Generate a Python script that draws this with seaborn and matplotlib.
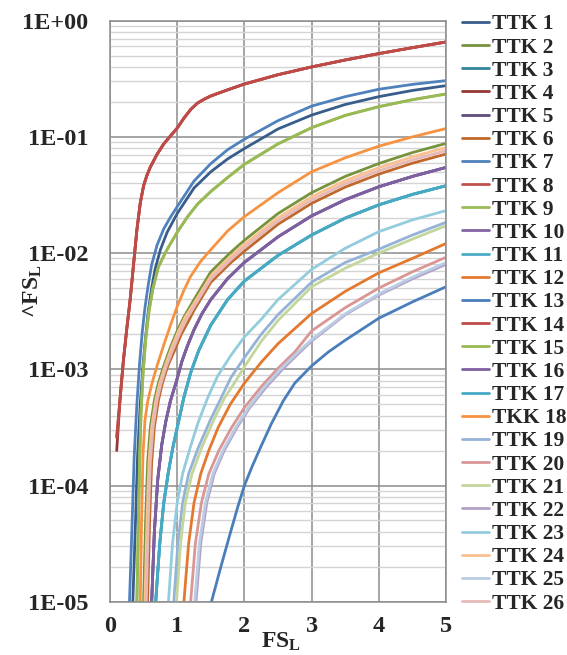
import numpy as np
import pandas as pd
import matplotlib
matplotlib.use("Agg")
import matplotlib.pyplot as plt
import matplotlib.ticker as mticker
import seaborn as sns

# ---- data (x = FS_L, y = ^FS_L) ----
red_x = [0.10, 0.15, 0.20, 0.25, 0.30, 0.35, 0.40, 0.45, 0.50, 0.55, 0.60, 0.70, 0.80, 0.90, 1.00, 1.10,
         1.20, 1.30, 1.40, 1.50, 1.75, 2.00, 2.50, 3.00, 3.50, 4.00, 4.50, 5.00]
ttk4_y = [2.0e-4, 5.6e-4, 1.2e-3, 2.24e-3, 3.98e-3, 7.94e-3, 0.0158, 0.0269, 0.038, 0.0468, 0.055, 0.0708,
          0.0871, 0.102, 0.119, 0.145, 0.172, 0.195, 0.211, 0.225, 0.254, 0.285, 0.343, 0.400, 0.459, 0.521, 0.586, 0.656]
ttk8_y = [2.6e-4, 5.6e-4, 1.2e-3, 2.24e-3, 3.98e-3, 7.94e-3, 0.0158, 0.0269, 0.038, 0.0468, 0.055, 0.0708,
          0.0871, 0.102, 0.119, 0.145, 0.172, 0.195, 0.211, 0.225, 0.254, 0.285, 0.343, 0.400, 0.459, 0.521, 0.586, 0.656]
ttk14_y = [2.6e-4, 5.6e-4, 1.2e-3, 2.24e-3, 3.98e-3, 7.94e-3, 0.0158, 0.0269, 0.038, 0.0468, 0.055, 0.0708,
           0.0871, 0.102, 0.119, 0.145, 0.172, 0.195, 0.211, 0.225, 0.254, 0.285, 0.343, 0.400, 0.459, 0.521, 0.586, 0.656]

ttk7_x = [0.29, 0.33, 0.36, 0.40, 0.44, 0.48, 0.52, 0.57, 0.62, 0.70, 0.80, 0.90, 1.00, 1.25, 1.50, 1.75,
          2.00, 2.50, 3.00, 3.50, 4.00, 4.50, 5.00]
ttk7_y = [1e-5, 5.0e-5, 1.78e-4, 5.0e-4, 1.12e-3, 2.09e-3, 3.39e-3, 5.37e-3, 7.94e-3, 0.0117, 0.0162, 0.0204,
          0.0251, 0.0417, 0.0589, 0.0776, 0.0955, 0.138, 0.184, 0.222, 0.257, 0.283, 0.305]

ttk1_x = [0.34, 0.38, 0.41, 0.45, 0.49, 0.53, 0.57, 0.62, 0.67, 0.75, 0.85, 1.00, 1.25, 1.50, 1.75, 2.00,
          2.50, 3.00, 3.50, 4.00, 4.50, 5.00]
ttk1_y = [1e-5, 5.0e-5, 1.78e-4, 5.0e-4, 1.07e-3, 1.91e-3, 3.16e-3, 5.0e-3, 7.24e-3, 0.0107, 0.0151, 0.0219,
          0.0363, 0.0501, 0.0646, 0.0794, 0.117, 0.154, 0.190, 0.222, 0.251, 0.276]

green_x = [0.40, 0.42, 0.44, 0.46, 0.49, 0.53, 0.58, 0.64, 0.72, 0.84, 1.00, 1.15, 1.30, 1.50, 1.75, 2.00,
           2.50, 3.00, 3.50, 4.00, 4.50, 5.00]
ttk9_y = [1e-5, 3.98e-5, 1.58e-4, 3.98e-4, 8.9e-4, 1.78e-3, 3.16e-3, 5.0e-3, 7.6e-3, 0.0105, 0.0151, 0.0204,
          0.0263, 0.0339, 0.0447, 0.0581, 0.0871, 0.120, 0.153, 0.182, 0.209, 0.234]
ttk15_y = [1e-5, 3.98e-5, 1.58e-4, 3.98e-4, 8.9e-4, 1.78e-3, 3.16e-3, 5.0e-3, 7.6e-3, 0.0105, 0.0151, 0.0204,
           0.0263, 0.0339, 0.0447, 0.0581, 0.0871, 0.120, 0.153, 0.182, 0.209, 0.234]

ttk18_x = [0.45, 0.47, 0.49, 0.52, 0.56, 0.62, 0.70, 0.80, 0.90, 1.00, 1.10, 1.20, 1.35, 1.50, 1.75, 2.00,
           2.50, 3.00, 3.50, 4.00, 4.50, 5.00]
ttk18_y = [1e-5, 5.0e-5, 1.78e-4, 3.63e-4, 5.25e-4, 7.4e-4, 1.07e-3, 1.62e-3, 2.4e-3, 3.47e-3, 4.79e-3, 6.31e-3,
           8.5e-3, 0.0107, 0.0155, 0.0206, 0.0331, 0.0501, 0.0661, 0.0832, 0.100, 0.118]

ttk2_x = [0.50, 0.53, 0.56, 0.60, 0.66, 0.72, 0.80, 0.90, 1.00, 1.10, 1.25, 1.50, 1.80, 2.00, 2.50, 3.00,
          3.50, 4.00, 4.50, 5.00]
ttk2_y = [1e-5, 5.0e-5, 1.58e-4, 3.16e-4, 5.4e-4, 7.6e-4, 1.07e-3, 1.55e-3, 2.14e-3, 2.82e-3, 3.98e-3, 6.9e-3,
          0.0102, 0.0129, 0.0219, 0.0331, 0.0457, 0.0590, 0.0733, 0.0879]

ttk24_x = [0.52, 0.55, 0.58, 0.62, 0.68, 0.74, 0.82, 0.92, 1.02, 1.12, 1.25, 1.50, 1.80, 2.00, 2.50, 3.00,
           3.50, 4.00, 4.50, 5.00]
ttk24_y = [1e-5, 5.0e-5, 1.58e-4, 3.16e-4, 5.4e-4, 7.6e-4, 1.07e-3, 1.55e-3, 2.14e-3, 2.82e-3, 3.7e-3, 6.35e-3,
           9.4e-3, 0.0119, 0.0201, 0.0305, 0.0420, 0.0543, 0.0674, 0.0810]

ttk26_x = [0.54, 0.57, 0.60, 0.64, 0.70, 0.76, 0.84, 0.94, 1.04, 1.14, 1.25, 1.50, 1.80, 2.00, 2.50, 3.00,
           3.50, 4.00, 4.50, 5.00]
ttk26_y = [1e-5, 5.0e-5, 1.58e-4, 3.16e-4, 5.4e-4, 7.6e-4, 1.07e-3, 1.5e-3, 2.05e-3, 2.7e-3, 3.45e-3, 5.97e-3,
           8.8e-3, 0.0112, 0.0189, 0.0286, 0.0395, 0.0510, 0.0634, 0.0760]

ttk6_x = [0.56, 0.59, 0.62, 0.66, 0.72, 0.78, 0.86, 0.96, 1.06, 1.16, 1.25, 1.50, 1.80, 2.00, 2.50, 3.00,
          3.50, 4.00, 4.50, 5.00]
ttk6_y = [1e-5, 5.0e-5, 1.58e-4, 3.16e-4, 5.4e-4, 7.6e-4, 1.07e-3, 1.45e-3, 2.0e-3, 2.55e-3, 3.22e-3, 5.6e-3,
          8.3e-3, 0.0104, 0.0177, 0.0268, 0.0370, 0.0478, 0.0594, 0.0712]

purple_x = [0.62, 0.66, 0.71, 0.77, 0.83, 0.90, 0.99, 1.07, 1.15, 1.25, 1.37, 1.50, 1.75, 2.00, 2.50, 3.00,
            3.50, 4.00, 4.50, 5.00]
ttk5_y = [1e-5, 3.98e-5, 1.12e-4, 2.24e-4, 3.55e-4, 5.37e-4, 7.94e-4, 1.17e-3, 1.58e-3, 2.19e-3, 3.02e-3,
          3.98e-3, 6.03e-3, 8.32e-3, 0.0138, 0.0209, 0.0288, 0.0372, 0.0457, 0.0546]
ttk10_y = [1e-5, 3.98e-5, 1.12e-4, 2.24e-4, 3.55e-4, 5.37e-4, 7.94e-4, 1.17e-3, 1.58e-3, 2.19e-3, 3.02e-3,
           3.98e-3, 6.03e-3, 8.32e-3, 0.0138, 0.0209, 0.0288, 0.0372, 0.0457, 0.0546]
ttk16_y = [1e-5, 3.98e-5, 1.12e-4, 2.24e-4, 3.55e-4, 5.37e-4, 7.94e-4, 1.17e-3, 1.58e-3, 2.19e-3, 3.02e-3,
           3.98e-3, 6.03e-3, 8.32e-3, 0.0138, 0.0209, 0.0288, 0.0372, 0.0457, 0.0546]

teal_x = [0.68, 0.74, 0.80, 0.87, 0.94, 1.02, 1.10, 1.20, 1.32, 1.50, 1.75, 2.00, 2.50, 3.00, 3.50, 4.00,
          4.50, 5.00]
ttk3_y = [1e-5, 3.16e-5, 7.08e-5, 1.32e-4, 2.19e-4, 3.55e-4, 5.75e-4, 9.33e-4, 1.45e-3, 2.4e-3, 3.98e-3,
          5.75e-3, 9.55e-3, 0.0143, 0.0200, 0.0260, 0.0320, 0.0380]
ttk11_y = [1e-5, 3.16e-5, 7.08e-5, 1.32e-4, 2.19e-4, 3.55e-4, 5.75e-4, 9.33e-4, 1.45e-3, 2.4e-3, 3.98e-3,
           5.75e-3, 9.55e-3, 0.0143, 0.0200, 0.0260, 0.0320, 0.0380]
ttk17_y = [1e-5, 3.16e-5, 7.08e-5, 1.32e-4, 2.19e-4, 3.55e-4, 5.75e-4, 9.33e-4, 1.45e-3, 2.4e-3, 3.98e-3,
           5.75e-3, 9.55e-3, 0.0143, 0.0200, 0.0260, 0.0320, 0.0380]

ttk23_x = [0.87, 0.93, 1.00, 1.08, 1.19, 1.31, 1.45, 1.60, 1.80, 2.00, 2.25, 2.50, 3.00, 3.50, 4.00, 4.50, 5.00]
ttk23_y = [1e-5, 3.16e-5, 7.08e-5, 1.26e-4, 2.09e-4, 3.47e-4, 5.62e-4, 8.71e-4, 1.32e-3, 1.9e-3, 2.69e-3,
           3.98e-3, 7.24e-3, 0.0110, 0.0153, 0.0193, 0.0232]

ttk19_x = [0.95, 1.01, 1.08, 1.17, 1.31, 1.49, 1.65, 1.80, 2.00, 2.25, 2.50, 3.00, 3.50, 4.00, 4.50, 5.00]
ttk19_y = [1e-5, 3.16e-5, 7.08e-5, 1.26e-4, 2.09e-4, 3.63e-4, 5.62e-4, 8.5e-4, 1.26e-3, 2.0e-3, 2.95e-3,
           5.62e-3, 8.3e-3, 0.0108, 0.0143, 0.0184]

ttk21_x = [0.99, 1.05, 1.12, 1.22, 1.36, 1.54, 1.70, 1.85, 2.00, 2.25, 2.50, 3.00, 3.50, 4.00, 4.50, 5.00]
ttk21_y = [1e-5, 3.16e-5, 7.08e-5, 1.26e-4, 2.09e-4, 3.63e-4, 5.62e-4, 7.6e-4, 1.05e-3, 1.74e-3, 2.63e-3,
           5.13e-3, 7.41e-3, 0.0100, 0.0132, 0.0172]

ttk12_x = [1.10, 1.17, 1.25, 1.35, 1.47, 1.61, 1.79, 2.00, 2.25, 2.50, 3.00, 3.50, 4.00, 4.50, 5.00]
ttk12_y = [1e-5, 3.16e-5, 7.08e-5, 1.26e-4, 2.0e-4, 3.16e-4, 5.0e-4, 7.6e-4, 1.15e-3, 1.66e-3, 3.02e-3,
           4.68e-3, 6.76e-3, 9.0e-3, 0.0121]

ttk20_x = [1.20, 1.27, 1.36, 1.47, 1.62, 1.81, 2.00, 2.25, 2.50, 2.75, 3.00, 3.50, 4.00, 4.50, 5.00]
ttk20_y = [1e-5, 3.16e-5, 7.08e-5, 1.26e-4, 2.0e-4, 3.16e-4, 4.68e-4, 7.08e-4, 1.02e-3, 1.41e-3, 2.14e-3,
           3.39e-3, 5.0e-3, 6.9e-3, 9.2e-3]

ttk25_x = [1.26, 1.33, 1.42, 1.53, 1.68, 1.87, 2.06, 2.30, 2.55, 2.80, 3.00, 3.50, 4.00, 4.50, 5.00]
ttk25_y = [1e-5, 3.16e-5, 7.08e-5, 1.26e-4, 2.0e-4, 3.16e-4, 4.68e-4, 7.08e-4, 1.02e-3, 1.41e-3, 1.8e-3,
           3.0e-3, 4.45e-3, 6.2e-3, 8.3e-3]

ttk22_x = [1.28, 1.35, 1.44, 1.55, 1.70, 1.89, 2.08, 2.33, 2.58, 2.83, 3.00, 3.50, 4.00, 4.50, 5.00]
ttk22_y = [1e-5, 3.16e-5, 7.08e-5, 1.26e-4, 2.0e-4, 3.16e-4, 4.68e-4, 7.08e-4, 1.02e-3, 1.41e-3, 1.75e-3,
           2.95e-3, 4.35e-3, 6.0e-3, 8.0e-3]

ttk13_x = [1.51, 1.65, 1.79, 1.90, 2.00, 2.12, 2.25, 2.40, 2.58, 2.75, 3.00, 3.25, 3.50, 4.00, 4.50, 5.00]
ttk13_y = [1e-5, 2.0e-5, 3.9e-5, 6.5e-5, 1e-4, 1.48e-4, 2.19e-4, 3.39e-4, 5.37e-4, 7.6e-4, 1.07e-3, 1.41e-3,
           1.78e-3, 2.75e-3, 3.8e-3, 5.13e-3]

names = ["TTK 1", "TTK 2", "TTK 3", "TTK 4", "TTK 5", "TTK 6", "TTK 7", "TTK 8", "TTK 9",
         "TTK 10", "TTK 11", "TTK 12", "TTK 13", "TTK 14", "TTK 15", "TTK 16", "TTK 17",
         "TKK 18", "TTK 19", "TTK 20", "TTK 21", "TTK 22", "TTK 23", "TTK 24", "TTK 25", "TTK 26"]
colors = ["#385D8A", "#77933C", "#31859C", "#953735", "#604A7B", "#C0682C", "#4F81BD", "#C0504D",
          "#9BBB59", "#8064A2", "#4BACC6", "#E3792F", "#4A7EBB", "#BE4B48", "#98B954", "#7D60A0",
          "#46AAC5", "#F69240", "#95B3D7", "#D99694", "#C3D69B", "#B3A2C7", "#93CDDD", "#FAC090",
          "#B9CDE5", "#E6B9B8"]

series_x = [ttk1_x, ttk2_x, teal_x, red_x, purple_x, ttk6_x, ttk7_x, red_x, green_x, purple_x,
            teal_x, ttk12_x, ttk13_x, red_x, green_x, purple_x, teal_x, ttk18_x, ttk19_x, ttk20_x,
            ttk21_x, ttk22_x, ttk23_x, ttk24_x, ttk25_x, ttk26_x]
series_y = [ttk1_y, ttk2_y, ttk3_y, ttk4_y, ttk5_y, ttk6_y, ttk7_y, ttk8_y, ttk9_y, ttk10_y,
            ttk11_y, ttk12_y, ttk13_y, ttk14_y, ttk15_y, ttk16_y, ttk17_y, ttk18_y, ttk19_y, ttk20_y,
            ttk21_y, ttk22_y, ttk23_y, ttk24_y, ttk25_y, ttk26_y]

ytick_vals = [1e-5, 1e-4, 1e-3, 1e-2, 1e-1, 1]
ytick_labels = ["1E-05", "1E-04", "1E-03", "1E-02", "1E-01", "1E+00"]
xtick_vals = [0, 1, 2, 3, 4, 5]

df = pd.concat([pd.DataFrame({"x": xs, "y": ys, "series": n})
                for n, xs, ys in zip(names, series_x, series_y)], ignore_index=True)

sns.set_theme(style="white")
plt.rcParams["font.family"] = ["Liberation Serif", "DejaVu Serif"]
plt.rcParams["font.weight"] = "bold"
plt.rcParams["mathtext.fontset"] = "custom"
plt.rcParams["mathtext.rm"] = "Liberation Serif:bold"
plt.rcParams["mathtext.it"] = "Liberation Serif:bold"
plt.rcParams["mathtext.bf"] = "Liberation Serif:bold"

fig = plt.figure(figsize=(5.67, 6.55), dpi=100)
ax = fig.add_axes([110 / 567, 1 - 601.7 / 655, 336 / 567, 581 / 655])

sns.lineplot(data=df, x="x", y="y", hue="series", hue_order=names,
             palette=dict(zip(names, colors)), estimator=None, sort=False,
             linewidth=2.0, ax=ax, legend=True)

ax.set_yscale("log")
ax.set_xlim(0, 5)
ax.set_ylim(1e-5, 1)

ax.yaxis.set_major_locator(mticker.FixedLocator(ytick_vals))
ax.yaxis.set_major_formatter(mticker.FixedFormatter(ytick_labels))
ax.yaxis.set_minor_locator(mticker.LogLocator(base=10, subs=np.arange(2, 10)))
ax.yaxis.set_minor_formatter(mticker.NullFormatter())
ax.xaxis.set_major_locator(mticker.FixedLocator(xtick_vals))

ax.grid(which="minor", axis="y", color="#D4D4D4", linewidth=1.0)
ax.grid(which="major", axis="both", color="#8C8C8C", linewidth=1.1)
ax.set_axisbelow(True)
for s in ax.spines.values():
    s.set_color("#8C8C8C")
    s.set_linewidth(1.1)

ax.tick_params(axis="y", which="major", direction="out", length=5, width=1.1,
               color="#8C8C8C", pad=10.5, labelsize=17.5)
ax.tick_params(axis="y", which="minor", length=0)
ax.tick_params(axis="x", which="major", direction="out", length=4, width=1.1,
               color="#8C8C8C", pad=6.5, labelsize=17.5)
for lab in ax.get_xticklabels() + ax.get_yticklabels():
    lab.set_fontweight("bold")

ax.set_xlabel(r"FS$_{\mathrm{L}}$", fontsize=17, fontweight="bold")
ax.xaxis.set_label_coords(0.51, -0.05)
ax.set_ylabel(r"^FS$_{\mathrm{L}}$", fontsize=17, fontweight="bold")
ax.yaxis.set_label_coords(-0.195, 0.535)

handles, labels = ax.get_legend_handles_labels()
for h in handles:
    h.set_linewidth(2.0)
ax.legend(handles, labels, loc="upper left", bbox_to_anchor=(1.048, 1.011),
          frameon=False, prop={"family": "Liberation Serif", "weight": "bold", "size": 15.5},
          handlelength=1.25, handletextpad=0.12, labelspacing=0.144, borderpad=0,
          borderaxespad=0)

fig.savefig("out.png", dpi=100, facecolor="white")
